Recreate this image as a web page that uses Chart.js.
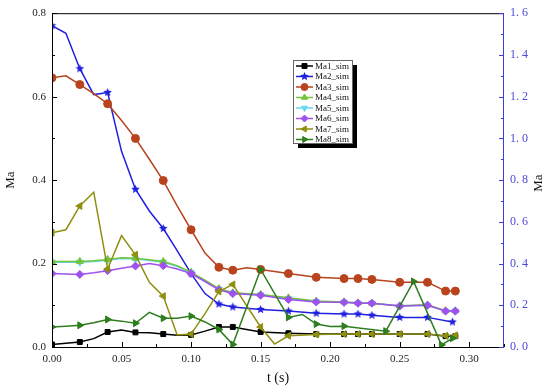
<!DOCTYPE html>
<html>
<head>
<meta charset="utf-8">
<script src="https://cdn.jsdelivr.net/npm/chart.js@4.4.0/dist/chart.umd.min.js"></script>
<style>
  html, body { margin: 0; padding: 0; background: #fff; }
  #wrap { width: 550px; height: 391px; position: relative; }
</style>
</head>
<body>
<div id="wrap"><canvas id="chart"></canvas></div>
<script>
// --- data: time (s) and Mach number per series ---
const names = ['Ma1_sim', 'Ma2_sim', 'Ma3_sim', 'Ma4_sim', 'Ma5_sim', 'Ma6_sim', 'Ma7_sim', 'Ma8_sim'];

const t1 = [0, 0.01, 0.02, 0.03, 0.04, 0.05, 0.06, 0.07, 0.08, 0.09, 0.10, 0.11, 0.12, 0.13, 0.15, 0.17, 0.19, 0.21, 0.22, 0.23, 0.25, 0.27, 0.283, 0.29];
const ma1 = [0.006, 0.009, 0.012, 0.02, 0.036, 0.041, 0.035, 0.034, 0.031, 0.028, 0.029, 0.038, 0.048, 0.048, 0.036, 0.033, 0.031, 0.031, 0.031, 0.031, 0.031, 0.031, 0.026, 0.026];

const t2 = [0, 0.01, 0.02, 0.03, 0.04, 0.05, 0.06, 0.07, 0.08, 0.09, 0.10, 0.11, 0.12, 0.13, 0.15, 0.17, 0.19, 0.21, 0.22, 0.23, 0.25, 0.27, 0.288];
const ma2 = [0.77, 0.752, 0.667, 0.605, 0.61, 0.469, 0.378, 0.326, 0.284, 0.231, 0.176, 0.128, 0.103, 0.096, 0.09, 0.086, 0.081, 0.079, 0.079, 0.076, 0.071, 0.071, 0.06];

const t3 = [0, 0.01, 0.02, 0.03, 0.04, 0.05, 0.06, 0.07, 0.08, 0.09, 0.10, 0.11, 0.12, 0.13, 0.14, 0.15, 0.17, 0.19, 0.21, 0.22, 0.23, 0.25, 0.27, 0.283, 0.29];
const ma3 = [0.645, 0.65, 0.629, 0.607, 0.583, 0.543, 0.50, 0.45, 0.399, 0.338, 0.281, 0.225, 0.191, 0.184, 0.19, 0.186, 0.176, 0.167, 0.164, 0.164, 0.162, 0.155, 0.155, 0.134, 0.134];

const t4 = [0, 0.01, 0.02, 0.03, 0.04, 0.05, 0.06, 0.07, 0.08, 0.09, 0.10, 0.11, 0.12, 0.13, 0.15, 0.17, 0.19, 0.21, 0.22, 0.23, 0.25, 0.27, 0.283, 0.29];
const ma4 = [0.205, 0.205, 0.205, 0.207, 0.21, 0.214, 0.213, 0.209, 0.205, 0.195, 0.179, 0.16, 0.14, 0.13, 0.126, 0.118, 0.11, 0.108, 0.106, 0.105, 0.099, 0.101, 0.087, 0.087];
const ma5 = [0.203, 0.203, 0.203, 0.205, 0.208, 0.212, 0.211, 0.207, 0.203, 0.193, 0.178, 0.158, 0.139, 0.129, 0.125, 0.116, 0.109, 0.107, 0.105, 0.105, 0.098, 0.1, 0.086, 0.086];
const ma6 = [0.176, 0.175, 0.174, 0.178, 0.183, 0.189, 0.194, 0.2, 0.195, 0.187, 0.176, 0.157, 0.137, 0.128, 0.124, 0.114, 0.108, 0.107, 0.105, 0.105, 0.098, 0.1, 0.086, 0.086];

const t7 = [0, 0.01, 0.02, 0.03, 0.04, 0.05, 0.06, 0.07, 0.08, 0.09, 0.10, 0.11, 0.12, 0.13, 0.15, 0.16, 0.17, 0.19, 0.21, 0.22, 0.23, 0.25, 0.27, 0.283, 0.29];
const ma7 = [0.274, 0.281, 0.338, 0.371, 0.187, 0.267, 0.221, 0.155, 0.122, 0.029, 0.031, 0.08, 0.133, 0.15, 0.048, 0.007, 0.027, 0.03, 0.031, 0.031, 0.031, 0.031, 0.031, 0.027, 0.028];

const t8 = [0, 0.01, 0.02, 0.03, 0.04, 0.05, 0.06, 0.07, 0.08, 0.09, 0.10, 0.11, 0.12, 0.13, 0.15, 0.17, 0.18, 0.19, 0.20, 0.21, 0.24, 0.26, 0.28, 0.288];
const ma8 = [0.048, 0.05, 0.052, 0.058, 0.066, 0.062, 0.057, 0.083, 0.069, 0.069, 0.074, 0.06, 0.042, 0.006, 0.186, 0.071, 0.078, 0.055, 0.049, 0.05, 0.038, 0.157, 0.005, 0.021];

const xTicks = [0, 0.05, 0.10, 0.15, 0.20, 0.25, 0.30];
const yLeftTicks = [0, 0.2, 0.4, 0.6, 0.8];
const yRightTicks = [0, 0.2, 0.4, 0.6, 0.8, 1.0, 1.2, 1.4, 1.6];

// Origin only shows a symbol on every other sample in the early part
function isMarked(t) {
    const h = Math.round(t * 1000);
    if (h <= 120) return h % 20 === 0;
    return ![140, 160, 180, 200].includes(h);
}

function series(ts, vs) {
    return ts.map((t, i) => ({ x: t, y: vs[i] }));
}

// filled five-point star, Chart.js's own 'star' is only an asterisk
function starImage(color, r) {
    const c = document.createElement('canvas');
    const s = Math.ceil(r * 2 + 2);
    c.width = c.height = s;
    const g = c.getContext('2d');
    g.fillStyle = color;
    g.beginPath();
    for (let k = 0; k < 10; k++) {
        const rr = k % 2 ? r * 0.45 : r;
        const a = -Math.PI / 2 + k * Math.PI / 5;
        g.lineTo(s / 2 + rr * Math.cos(a), s / 2 + rr * Math.sin(a));
    }
    g.closePath();
    g.fill();
    return c;
}

const colors = ['#000000', '#1f1fe0', '#b8431c', '#72c43a', '#66d8f0', '#a050f0', '#8f8f10', '#2e7d1f'];
const styles = [
    { style: 'rect', rot: 0, r: 3.5 },
    { style: starImage('#1f1fe0', 4.5), rot: 0, r: 4 },
    { style: 'circle', rot: 0, r: 4 },
    { style: 'triangle', rot: 0, r: 4 },
    { style: 'triangle', rot: 180, r: 4 },
    { style: 'rectRot', rot: 0, r: 4 },
    { style: 'triangle', rot: -90, r: 4 },
    { style: 'triangle', rot: 90, r: 4 }
];
// drawing order: lower number ends up on top; Ma5 sits underneath Ma4/Ma6
const drawOrder = [8, 7, 6, 5, 9, 3, 2, 1];
const allData = [
    series(t1, ma1), series(t2, ma2), series(t3, ma3), series(t4, ma4),
    series(t4, ma5), series(t4, ma6), series(t7, ma7), series(t8, ma8)
];

const datasets = names.map((name, i) => ({
    label: name,
    data: allData[i],
    yAxisID: 'y',
    borderColor: colors[i],
    backgroundColor: colors[i],
    borderWidth: 1.5,
    tension: 0,
    pointStyle: styles[i].style,
    pointRotation: styles[i].rot,
    pointRadius: ctx => (ctx.raw && isMarked(ctx.raw.x) ? styles[i].r : 0),
    pointBorderWidth: 1,
    order: drawOrder[i]
}));

const serif = 'Liberation Serif';

// frame, inward ticks (major + minor) and the right-hand title
const frame = {
    id: 'frame',
    afterDraw(chart) {
        const { ctx, chartArea: a, scales } = chart;
        ctx.save();
        ctx.lineWidth = 1;
        ctx.strokeStyle = '#000';
        ctx.beginPath();
        ctx.moveTo(a.left + 0.5, a.bottom + 0.5);
        ctx.lineTo(a.left + 0.5, a.top + 0.5);
        ctx.lineTo(a.right, a.top + 0.5);
        ctx.moveTo(a.left, a.bottom + 0.5);
        ctx.lineTo(a.right, a.bottom + 0.5);
        // x ticks every 0.025
        for (let i = 0; i <= 13; i++) {
            const x = Math.round(scales.x.getPixelForValue(i * 0.025)) + 0.5;
            const len = i % 2 === 0 ? 5 : 3;
            ctx.moveTo(x, a.bottom);
            ctx.lineTo(x, a.bottom - len);
        }
        // left ticks every 0.1
        for (let i = 0; i <= 8; i++) {
            const y = Math.round(scales.y.getPixelForValue(i * 0.1)) + 0.5;
            const len = i % 2 === 0 ? 5 : 3;
            ctx.moveTo(a.left, y);
            ctx.lineTo(a.left + len, y);
        }
        ctx.stroke();

        // right axis in blue
        ctx.strokeStyle = '#3d3dd8';
        ctx.beginPath();
        ctx.moveTo(a.right - 0.5, a.top);
        ctx.lineTo(a.right - 0.5, a.bottom + 1);
        for (let i = 0; i <= 16; i++) {
            const y = Math.round(scales.y2.getPixelForValue(i * 0.1)) + 0.5;
            const len = i % 2 === 0 ? 5 : 3;
            ctx.moveTo(a.right, y);
            ctx.lineTo(a.right - len, y);
        }
        ctx.stroke();

        ctx.translate(539, (a.top + a.bottom) / 2 + 3);
        ctx.rotate(-Math.PI / 2);
        ctx.fillStyle = '#111';
        ctx.font = '13px "' + serif + '"';
        ctx.textAlign = 'center';
        ctx.textBaseline = 'middle';
        ctx.fillText('Ma', 0, 0);
        ctx.restore();
    }
};

// boxed legend with drop shadow inside the plot
const boxLegend = {
    id: 'boxLegend',
    afterDraw(chart) {
        const ctx = chart.ctx;
        const x0 = 293, y0 = 60, w = 59, h = 83;
        ctx.save();
        ctx.fillStyle = '#000';
        ctx.fillRect(x0 + 5, y0 + 5, w, h);
        ctx.fillStyle = '#fff';
        ctx.fillRect(x0, y0, w, h);
        ctx.strokeStyle = '#666';
        ctx.lineWidth = 1;
        ctx.strokeRect(x0 + 0.5, y0 + 0.5, w, h);
        ctx.font = '9px "' + serif + '"';
        ctx.textBaseline = 'middle';
        chart.data.datasets.forEach((ds, i) => {
            const y = y0 + 6 + i * 10.5;
            ctx.strokeStyle = ds.borderColor;
            ctx.fillStyle = ds.borderColor;
            ctx.lineWidth = 1.5;
            ctx.beginPath();
            ctx.moveTo(x0 + 3, y);
            ctx.lineTo(x0 + 20, y);
            ctx.stroke();
            ctx.lineWidth = 1;
            if (Chart.helpers && Chart.helpers.drawPoint) {
                Chart.helpers.drawPoint(ctx, {
                    pointStyle: styles[i].style,
                    rotation: styles[i].rot,
                    radius: 3.5,
                    borderWidth: 1
                }, x0 + 11.5, y);
            }
            ctx.fillStyle = '#111';
            ctx.fillText(ds.label, x0 + 22, y + 0.5);
        });
        ctx.restore();
    }
};

new Chart(document.getElementById('chart'), {
    type: 'line',
    data: { datasets },
    options: {
        responsive: true,
        maintainAspectRatio: false,
        animation: false,
        layout: { padding: { top: 11, left: 0, right: 0, bottom: 0 } },
        plugins: {
            legend: { display: false },
            tooltip: { enabled: false }
        },
        scales: {
            x: {
                type: 'linear',
                min: 0,
                max: 0.325,
                grid: { display: false, drawTicks: false },
                border: { display: false },
                afterBuildTicks: s => { s.ticks = xTicks.map(v => ({ value: v })); },
                ticks: {
                    padding: 6,
                    color: '#222',
                    maxRotation: 0,
                    autoSkip: false,
                    font: { family: serif, size: 11 },
                    callback: v => Number(v).toFixed(2)
                },
                title: {
                    display: true,
                    text: 't (s)',
                    color: '#111',
                    font: { family: serif, size: 14 },
                    padding: { top: 0, bottom: 4 }
                },
                afterFit: s => { s.height = 44; }
            },
            y: {
                position: 'left',
                min: 0,
                max: 0.8,
                grid: { display: false, drawTicks: false },
                border: { display: false },
                afterBuildTicks: s => { s.ticks = yLeftTicks.map(v => ({ value: v })); },
                ticks: {
                    padding: 6,
                    color: '#222',
                    font: { family: serif, size: 11 },
                    callback: v => Number(v).toFixed(1)
                },
                title: {
                    display: true,
                    text: 'Ma',
                    color: '#111',
                    font: { family: serif, size: 13 },
                    padding: { top: 3, bottom: 0 }
                },
                afterFit: s => { s.width = 52; }
            },
            y2: {
                position: 'right',
                min: 0,
                max: 1.6,
                grid: { display: false, drawTicks: false },
                border: { display: false },
                afterBuildTicks: s => { s.ticks = yRightTicks.map(v => ({ value: v })); },
                ticks: {
                    padding: 6,
                    color: '#4b4bd8',
                    font: { family: serif, size: 12 },
                    callback: v => Number(v).toFixed(1).replace('.', '. ')
                },
                afterFit: s => { s.width = 46; }
            }
        }
    },
    plugins: [frame, boxLegend]
});
</script>
</body>
</html>
